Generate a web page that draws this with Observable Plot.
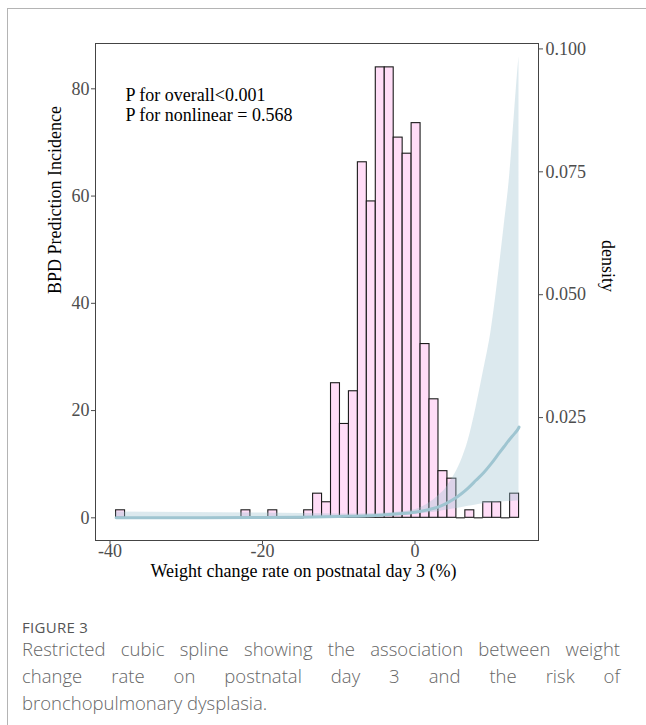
<!DOCTYPE html>
<html>
<head>
<meta charset="utf-8">
<script src="https://cdn.jsdelivr.net/npm/d3@7"></script>
<script src="https://cdn.jsdelivr.net/npm/@observablehq/plot@0.6"></script>
<style>
  html, body { margin: 0; padding: 0; background: #fff; }
  #wrap { position: relative; width: 646px; height: 725px; overflow: hidden; }
  #box { position: absolute; left: 7px; top: 8px; width: 700px; height: 800px;
         border-top: 1px solid #b4b4b4; border-left: 1px solid #b4b4b4; }
  #chart { position: absolute; left: 0; top: 0; }
  #fig { position: absolute; left: 22px; top: 617px; font-family: "Open Sans", sans-serif;
         font-size: 15px; color: #555; letter-spacing: 0.3px; }
  .cap { position: absolute; left: 22px; width: 598px; font-family: "Open Sans", sans-serif;
         font-weight: 300; font-size: 18.5px; line-height: 27px; color: #666; white-space: nowrap; }
  .just { text-align: justify; text-align-last: justify; white-space: normal; }
</style>
</head>
<body>
<div id="wrap">
  <div id="box"></div>
  <div id="chart"></div>
  <div id="fig">FIGURE 3</div>
  <div class="cap just" style="top:635px">Restricted cubic spline showing the association between weight</div>
  <div class="cap just" style="top:662px">change rate on postnatal day 3 and the risk of</div>
  <div class="cap" style="top:689px">bronchopulmonary dysplasia.</div>
</div>
<script>
// ---- Data ----
// Histogram: 45 equal-width bins of weight change rate (%), heights on the left-axis scale
const binStart = -39.2;
const binWidth = 1.1745;
const binHeights = [
  1.4, 0, 0, 0, 0, 0, 0, 0, 0, 0, 0, 0, 0, 0, 1.4,
  0, 0, 1.4, 0, 0, 0, 1.4, 4.5, 2.9, 25.1, 17.5, 23.6, 66.3, 59.0, 84.0,
  84.0, 70.9, 67.9, 73.6, 32.4, 22.1, 8.7, 7.3, 0, 1.4, 0, 2.9, 2.9, 0, 4.5
];

// Restricted cubic spline: predicted incidence with 95% CI
const splineX     = [-39.2, -30, -20, -15, -10, -5, -2, 0, 2, 3, 4, 5, 6, 7, 8, 9, 10, 11, 11.7, 12.4, 13, 13.4, 13.64];
const splineFit   = [0.0, 0.02, 0.06, 0.12, 0.25, 0.45, 0.75, 1.05, 1.6, 2.0, 2.6, 3.4, 4.4, 5.6, 7.0, 8.4, 10.1, 12.0, 13.3, 14.6, 15.6, 16.3, 16.9];
const splineLower = [-0.1, -0.05, 0.0, 0.03, 0.08, 0.2, 0.4, 0.65, 0.95, 1.15, 1.4, 1.65, 1.9, 2.15, 2.4, 2.6, 2.75, 2.9, 3.0, 3.05, 3.1, 3.12, 3.15];
const splineUpper = [1.1, 1.0, 0.9, 0.8, 0.7, 0.8, 1.1, 1.5, 2.9, 4.0, 5.4, 7.6, 10.4, 14.5, 20.5, 27.5, 35.0, 46.0, 54.5, 63.5, 74.5, 82.0, 86.0];

// Axes
const xTicks = [-40, -20, 0];
const yTicks = [0, 20, 40, 60, 80];
const densityTicks = [0.025, 0.050, 0.075, 0.100];
const yDomain = [-4.23, 88.45];       // left axis (incidence) extent of the panel
const densityDomain = [0, 0.1011];    // right axis (density) extent of the panel

const annotation = ["P for overall<0.001", "P for nonlinear = 0.568"];
const xTitle = "Weight change rate on postnatal day 3 (%)";
const yTitle = "BPD Prediction Incidence";
const y2Title = "density";

// ---- Build tables ----
const bins = binHeights.map((h, i) => ({x1: binStart + i * binWidth, x2: binStart + (i + 1) * binWidth, h}));
const filled = bins.filter(d => d.h > 0);
const empty = bins.filter(d => d.h === 0);
const spline = splineX.map((x, i) => ({x, fit: splineFit[i], lo: splineLower[i], hi: splineUpper[i]}));
const densToInc = d3.scaleLinear().domain(densityDomain).range(yDomain);

const serif = "'Liberation Serif', 'Times New Roman', serif";

const chart = Plot.plot({
  width: 646,
  height: 600,
  marginLeft: 95,
  marginRight: 108,
  marginTop: 43,
  marginBottom: 60,
  x: {domain: [-41.9, 16.2]},
  y: {domain: yDomain},
  style: {fontFamily: serif, fontSize: "18px", background: "transparent", overflow: "visible"},
  marks: [
    Plot.rect(filled, {x1: "x1", x2: "x2", y1: 0, y2: "h", fill: "#FFDDF7", stroke: "#1a1a1a", strokeWidth: 1.1}),
    Plot.ruleY(empty, {x1: "x1", x2: "x2", y: 0, stroke: "#1a1a1a", strokeWidth: 1.1}),
    Plot.areaY(spline, {x: "x", y1: "lo", y2: "hi", fill: "#9EC3D1", fillOpacity: 0.36, curve: "monotone-x"}),
    Plot.line(spline, {x: "x", y: "fit", stroke: "#9fc5d1", strokeWidth: 3, curve: "monotone-x"}),
    Plot.frame({stroke: "#444", strokeWidth: 1}),
    Plot.axisX({ticks: xTicks, tickSize: 4, tickPadding: 0, color: "#4d4d4d", fontSize: 18, label: null,
                tickFormat: d => d < 0 ? "-" + Math.abs(d) : String(d)}),
    Plot.axisY({ticks: yTicks, tickSize: 4, tickPadding: 2, color: "#4d4d4d", fontSize: 18, label: null}),
    Plot.axisY({anchor: "right", ticks: densityTicks.map(d => densToInc(d)), tickSize: 4, tickPadding: 3,
                color: "#4d4d4d", fontSize: 18, label: null,
                tickFormat: v => d3.format(".3f")(densToInc.invert(v))}),
    Plot.text([annotation.join("\n")], {frameAnchor: "top-left", dx: 30, dy: 43.5, lineAnchor: "top",
                textAnchor: "start", lineHeight: 1.11, fontSize: 18, fill: "#000"}),
    Plot.text([xTitle], {frameAnchor: "bottom", dx: -13.5, dy: 31, lineAnchor: "middle", fontSize: 18, fill: "#000"}),
    Plot.text([yTitle], {frameAnchor: "left", dx: -40, dy: 2, rotate: -90, fontSize: 18, fill: "#000"}),
    Plot.text([y2Title], {frameAnchor: "right", dx: 69.5, dy: 0, rotate: 90, fontSize: 18, fill: "#000"})
  ]
});
document.getElementById("chart").appendChild(chart);
</script>
</body>
</html>
